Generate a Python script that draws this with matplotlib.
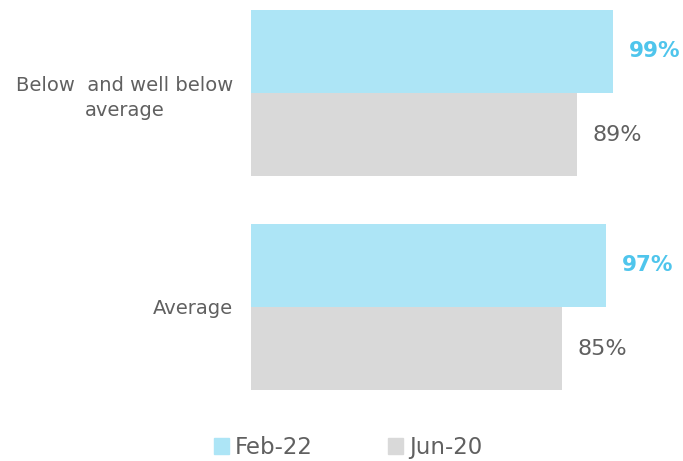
import matplotlib.pyplot as plt
from matplotlib.patches import Patch

categories = ["Below  and well below\naverage", "Average"]
feb22 = [99, 97]
jun20 = [89, 85]
series_names = ["Feb-22", "Jun-20"]

blue = "#ADE5F6"
grey = "#D9D9D9"
blue_text = "#4FC5EC"
text_col = "#606060"

plt.rcParams['font.family'] = ['DejaVu Sans']

fig = plt.figure(figsize=(6.83, 4.61), dpi=100)
ax = fig.add_axes([251 / 683, 61 / 461, 432 / 683, 400 / 461])

pos = [1, 0]
h = 0.39
ax.barh([p + h / 2 for p in pos], feb22, height=h, color=blue)
ax.barh([p - h / 2 for p in pos], jun20, height=h, color=grey)

for p, v in zip(pos, feb22):
    ax.text(v + 4.3, p + h / 2, f"{v}%", color=blue_text, fontsize=15.5,
            fontweight="bold", va="center", ha="left")
for p, v in zip(pos, jun20):
    ax.text(v + 4.3, p - h / 2, f"{v}%", color=text_col, fontsize=16,
            va="center", ha="left")

ax.set_xlim(0, 118.1)
ax.set_ylim(-0.4346, 1.4346)
ax.set_yticks(pos)
ax.set_yticklabels(categories, fontsize=14, color=text_col)
for lbl in ax.get_yticklabels():
    lbl.set_multialignment("center")
    lbl.set_linespacing(1.4)
ax.tick_params(axis="y", length=0, pad=13)
ax.set_xticks([])
for s in ax.spines.values():
    s.set_visible(False)

handles = [Patch(color=blue), Patch(color=grey)]
fig.legend(handles, series_names, loc="lower center", bbox_to_anchor=(348 / 683, -0.04),
           ncol=2, frameon=False, fontsize=16.5, labelcolor=text_col,
           handlelength=0.68, handleheight=0.68, handletextpad=0.25, columnspacing=3.25)

fig.savefig("out.png", dpi=100)
